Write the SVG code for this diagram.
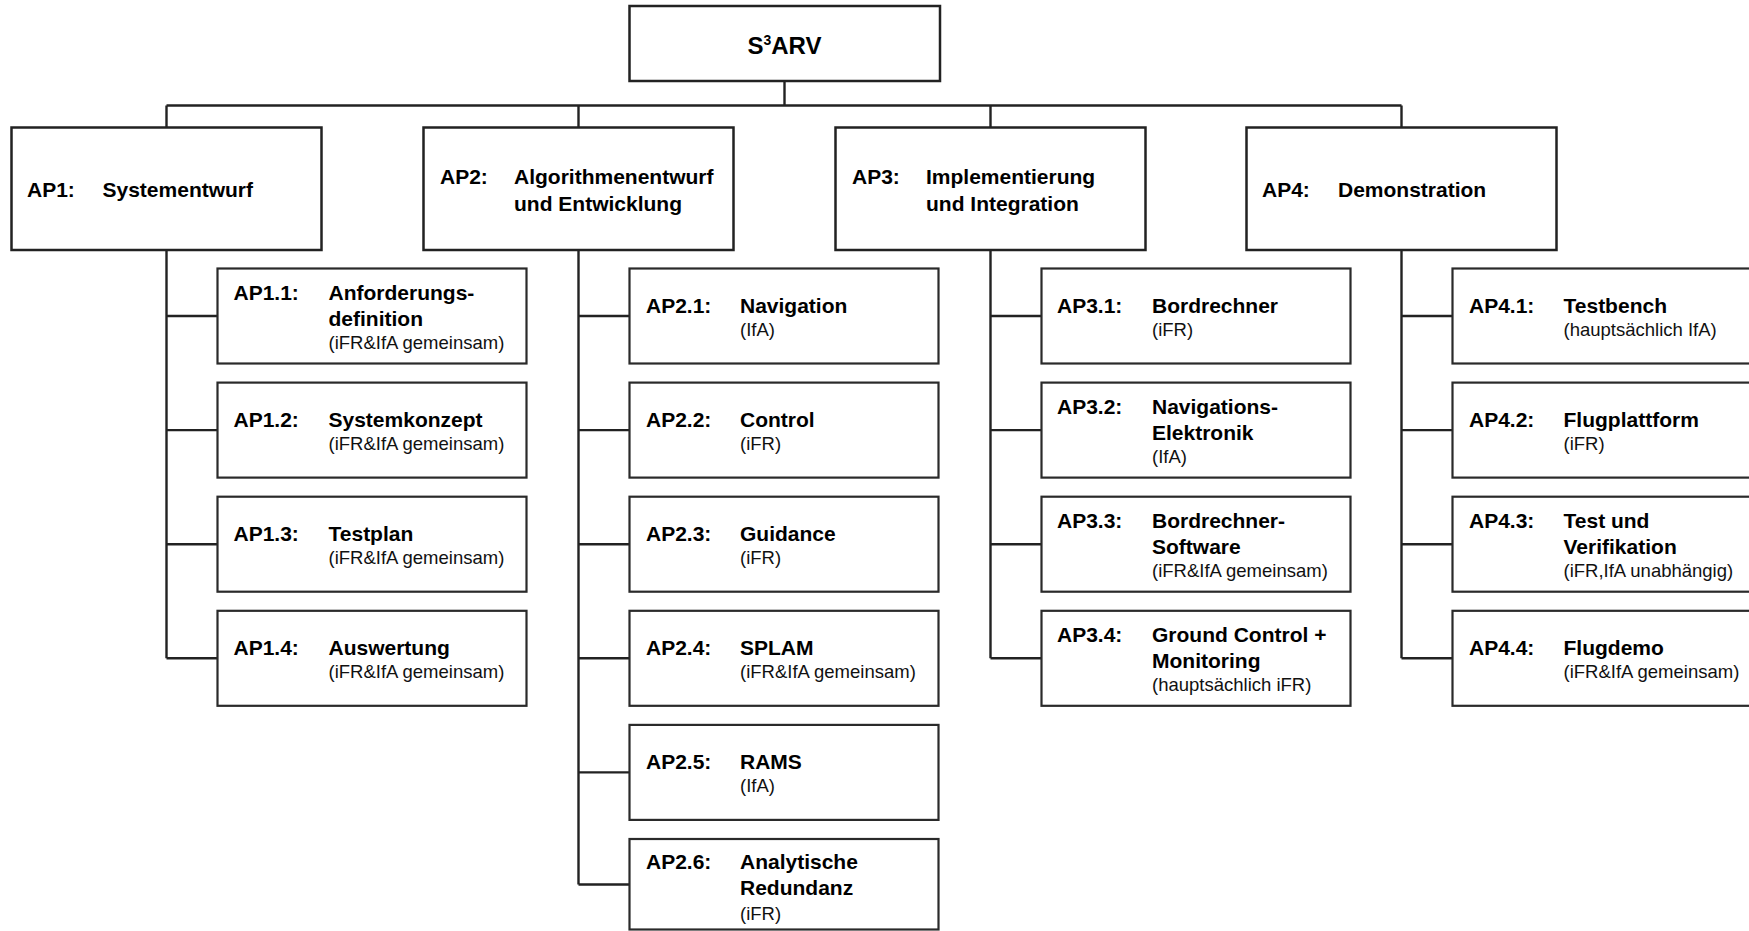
<svg xmlns="http://www.w3.org/2000/svg" width="1749" height="931" viewBox="0 0 1749 931">
  <style>
    .box { fill: #ffffff; stroke: #222222; stroke-width: 2.5; }
    .sub { fill: #ffffff; stroke: #2a2a2a; stroke-width: 2.2; }
    .wire { fill: none; stroke: #222222; stroke-width: 2.4; }
    .b { font-family: "Liberation Sans", Arial, sans-serif; font-weight: bold; font-size: 21px; fill: #000000; }
    .s { font-family: "Liberation Sans", Arial, sans-serif; font-size: 18.5px; fill: #111111; }
    .title { font-size: 24px; }
  </style>

  <!-- connectors -->
  <g id="connectors" class="wire">
    <path d="M784.5 81 V105.5"/>
    <path d="M166.5 105.5 H1401.5"/>
    <path d="M166.5 105.5 V127.5 M578.5 105.5 V127.5 M990.5 105.5 V127.5 M1401.5 105.5 V127.5"/>
    <!-- AP1 branch -->
    <path d="M166.5 250 V658.3 M166.5 316 H217.5 M166.5 430.1 H217.5 M166.5 544.2 H217.5 M166.5 658.3 H217.5"/>
    <!-- AP2 branch -->
    <path d="M578.5 250 V884.5 M578.5 316 H629.5 M578.5 430.1 H629.5 M578.5 544.2 H629.5 M578.5 658.3 H629.5 M578.5 772.4 H629.5 M578.5 884.5 H629.5"/>
    <!-- AP3 branch -->
    <path d="M990.5 250 V658.3 M990.5 316 H1041.5 M990.5 430.1 H1041.5 M990.5 544.2 H1041.5 M990.5 658.3 H1041.5"/>
    <!-- AP4 branch -->
    <path d="M1401.5 250 V658.3 M1401.5 316 H1452.5 M1401.5 430.1 H1452.5 M1401.5 544.2 H1452.5 M1401.5 658.3 H1452.5"/>
  </g>

  <!-- root -->
  <g id="root">
    <rect class="box" x="629.5" y="6" width="310.5" height="75"/>
    <text class="b title" x="784.5" y="54" text-anchor="middle">S<tspan font-size="14" dy="-9">3</tspan><tspan dy="9">ARV</tspan></text>
  </g>

  <!-- work packages, level 1 -->
  <g id="ap1">
    <rect class="box" x="11.5" y="127.5" width="310" height="122.5"/>
    <text class="b" x="27" y="197">AP1:</text>
    <text class="b" x="102.5" y="197">Systementwurf</text>
  </g>
  <g id="ap2">
    <rect class="box" x="423.5" y="127.5" width="310" height="122.5"/>
    <text class="b" x="440" y="183.5">AP2:</text>
    <text class="b" x="514" y="183.5">Algorithmenentwurf</text>
    <text class="b" x="514" y="210.5">und Entwicklung</text>
  </g>
  <g id="ap3">
    <rect class="box" x="835.5" y="127.5" width="310" height="122.5"/>
    <text class="b" x="852" y="183.5">AP3:</text>
    <text class="b" x="926" y="183.5">Implementierung</text>
    <text class="b" x="926" y="210.5">und Integration</text>
  </g>
  <g id="ap4">
    <rect class="box" x="1246.5" y="127.5" width="310" height="122.5"/>
    <text class="b" x="1262" y="197">AP4:</text>
    <text class="b" x="1338" y="197">Demonstration</text>
  </g>

  <!-- AP1 sub packages -->
  <g id="ap1-1">
    <rect class="sub" x="217.5" y="268.5" width="309" height="95"/>
    <text class="b" x="233.5" y="300">AP1.1:</text>
    <text class="b" x="328.5" y="300">Anforderungs-</text>
    <text class="b" x="328.5" y="326">definition</text>
    <text class="s" x="328.5" y="348.5">(iFR&amp;IfA gemeinsam)</text>
  </g>
  <g id="ap1-2">
    <rect class="sub" x="217.5" y="382.6" width="309" height="95"/>
    <text class="b" x="233.5" y="426.6">AP1.2:</text>
    <text class="b" x="328.5" y="426.6">Systemkonzept</text>
    <text class="s" x="328.5" y="449.6">(iFR&amp;IfA gemeinsam)</text>
  </g>
  <g id="ap1-3">
    <rect class="sub" x="217.5" y="496.7" width="309" height="95"/>
    <text class="b" x="233.5" y="540.7">AP1.3:</text>
    <text class="b" x="328.5" y="540.7">Testplan</text>
    <text class="s" x="328.5" y="563.7">(iFR&amp;IfA gemeinsam)</text>
  </g>
  <g id="ap1-4">
    <rect class="sub" x="217.5" y="610.8" width="309" height="95"/>
    <text class="b" x="233.5" y="654.8">AP1.4:</text>
    <text class="b" x="328.5" y="654.8">Auswertung</text>
    <text class="s" x="328.5" y="677.8">(iFR&amp;IfA gemeinsam)</text>
  </g>

  <!-- AP2 sub packages -->
  <g id="ap2-1">
    <rect class="sub" x="629.5" y="268.5" width="309" height="95"/>
    <text class="b" x="646" y="312.5">AP2.1:</text>
    <text class="b" x="740" y="312.5">Navigation</text>
    <text class="s" x="740" y="335.5">(IfA)</text>
  </g>
  <g id="ap2-2">
    <rect class="sub" x="629.5" y="382.6" width="309" height="95"/>
    <text class="b" x="646" y="426.6">AP2.2:</text>
    <text class="b" x="740" y="426.6">Control</text>
    <text class="s" x="740" y="449.6">(iFR)</text>
  </g>
  <g id="ap2-3">
    <rect class="sub" x="629.5" y="496.7" width="309" height="95"/>
    <text class="b" x="646" y="540.7">AP2.3:</text>
    <text class="b" x="740" y="540.7">Guidance</text>
    <text class="s" x="740" y="563.7">(iFR)</text>
  </g>
  <g id="ap2-4">
    <rect class="sub" x="629.5" y="610.8" width="309" height="95"/>
    <text class="b" x="646" y="654.8">AP2.4:</text>
    <text class="b" x="740" y="654.8">SPLAM</text>
    <text class="s" x="740" y="677.8">(iFR&amp;IfA gemeinsam)</text>
  </g>
  <g id="ap2-5">
    <rect class="sub" x="629.5" y="724.9" width="309" height="95"/>
    <text class="b" x="646" y="768.9">AP2.5:</text>
    <text class="b" x="740" y="768.9">RAMS</text>
    <text class="s" x="740" y="791.9">(IfA)</text>
  </g>
  <g id="ap2-6">
    <rect class="sub" x="629.5" y="839" width="309" height="90.5"/>
    <text class="b" x="646" y="868.5">AP2.6:</text>
    <text class="b" x="740" y="868.5">Analytische</text>
    <text class="b" x="740" y="895">Redundanz</text>
    <text class="s" x="740" y="920">(iFR)</text>
  </g>

  <!-- AP3 sub packages -->
  <g id="ap3-1">
    <rect class="sub" x="1041.5" y="268.5" width="309" height="95"/>
    <text class="b" x="1057" y="312.5">AP3.1:</text>
    <text class="b" x="1152" y="312.5">Bordrechner</text>
    <text class="s" x="1152" y="335.5">(iFR)</text>
  </g>
  <g id="ap3-2">
    <rect class="sub" x="1041.5" y="382.6" width="309" height="95"/>
    <text class="b" x="1057" y="413.6">AP3.2:</text>
    <text class="b" x="1152" y="413.6">Navigations-</text>
    <text class="b" x="1152" y="439.6">Elektronik</text>
    <text class="s" x="1152" y="463">(IfA)</text>
  </g>
  <g id="ap3-3">
    <rect class="sub" x="1041.5" y="496.7" width="309" height="95"/>
    <text class="b" x="1057" y="527.7">AP3.3:</text>
    <text class="b" x="1152" y="527.7">Bordrechner-</text>
    <text class="b" x="1152" y="553.7">Software</text>
    <text class="s" x="1152" y="577">(iFR&amp;IfA gemeinsam)</text>
  </g>
  <g id="ap3-4">
    <rect class="sub" x="1041.5" y="610.8" width="309" height="95"/>
    <text class="b" x="1057" y="641.8">AP3.4:</text>
    <text class="b" x="1152" y="641.8">Ground Control +</text>
    <text class="b" x="1152" y="667.8">Monitoring</text>
    <text class="s" x="1152" y="691">(hauptsächlich iFR)</text>
  </g>

  <!-- AP4 sub packages -->
  <g id="ap4-1">
    <rect class="sub" x="1452.5" y="268.5" width="309" height="95"/>
    <text class="b" x="1469" y="312.5">AP4.1:</text>
    <text class="b" x="1563.5" y="312.5">Testbench</text>
    <text class="s" x="1563.5" y="335.5">(hauptsächlich IfA)</text>
  </g>
  <g id="ap4-2">
    <rect class="sub" x="1452.5" y="382.6" width="309" height="95"/>
    <text class="b" x="1469" y="426.6">AP4.2:</text>
    <text class="b" x="1563.5" y="426.6">Flugplattform</text>
    <text class="s" x="1563.5" y="449.6">(iFR)</text>
  </g>
  <g id="ap4-3">
    <rect class="sub" x="1452.5" y="496.7" width="309" height="95"/>
    <text class="b" x="1469" y="527.7">AP4.3:</text>
    <text class="b" x="1563.5" y="527.7">Test und</text>
    <text class="b" x="1563.5" y="553.7">Verifikation</text>
    <text class="s" x="1563.5" y="577">(iFR,IfA unabhängig)</text>
  </g>
  <g id="ap4-4">
    <rect class="sub" x="1452.5" y="610.8" width="309" height="95"/>
    <text class="b" x="1469" y="654.8">AP4.4:</text>
    <text class="b" x="1563.5" y="654.8">Flugdemo</text>
    <text class="s" x="1563.5" y="677.8">(iFR&amp;IfA gemeinsam)</text>
  </g>
</svg>
